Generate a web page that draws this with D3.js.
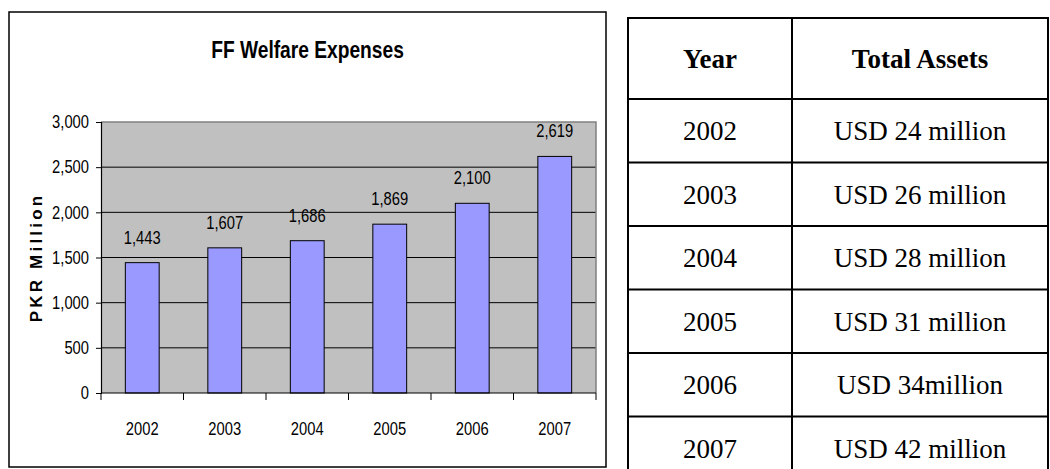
<!DOCTYPE html>
<html>
<head>
<meta charset="utf-8">
<script src="https://cdn.jsdelivr.net/npm/d3@7"></script>
<style>
  html, body { margin: 0; padding: 0; background: #fff; }
  svg { display: block; }
</style>
</head>
<body>
<svg id="fig" width="1050" height="469"></svg>
<script>
// ---- data ----
const years = ["2002", "2003", "2004", "2005", "2006", "2007"];
const expenses = [1443, 1607, 1686, 1869, 2100, 2619];
const yTicks = [0, 500, 1000, 1500, 2000, 2500, 3000];
const assets = ["USD 24 million", "USD 26 million", "USD 28 million",
                "USD 31 million", "USD 34million", "USD 42 million"];
const tableHeader = ["Year", "Total Assets"];
const chartTitle = "FF Welfare Expenses";
const yTitle = "PKR Million";

const svg = d3.select("#fig");
const sans = "'Liberation Sans', Arial, sans-serif";
const serif = "'Liberation Serif', 'Times New Roman', serif";

// condensed look: squeeze text horizontally around its anchor point
function squeeze(sel, k) {
  sel.each(function () {
    const t = d3.select(this);
    const tx = +t.attr("x") || 0, ty = +t.attr("y") || 0;
    t.attr("x", 0).attr("y", 0)
     .attr("transform", `translate(${tx},${ty}) scale(${k},1)`);
  });
}

// ---- chart frame ----
const box = { x0: 9, y0: 12, x1: 606, y1: 467 };
svg.append("rect")
  .attr("x", box.x0).attr("y", box.y0)
  .attr("width", box.x1 - box.x0).attr("height", box.y1 - box.y0)
  .attr("fill", "#fff").attr("stroke", "#000").attr("stroke-width", 1.5);

const plot = { left: 101, right: 596, top: 122, bottom: 393 };

const y = d3.scaleLinear().domain([0, 3000]).range([plot.bottom, plot.top]);
const x = d3.scaleBand().domain(years).range([plot.left, plot.right])
  .paddingInner(0.59).paddingOuter(0.295);
const xCat = d3.scaleBand().domain(years).range([plot.left, plot.right]).padding(0);

// plot background
svg.append("rect")
  .attr("x", plot.left).attr("y", plot.top)
  .attr("width", plot.right - plot.left).attr("height", plot.bottom - plot.top)
  .attr("fill", "#c0c0c0");

// horizontal gridlines
svg.append("g").selectAll("line")
  .data(yTicks.filter(v => v > 0 && v < 3000))
  .join("line")
  .attr("x1", plot.left).attr("x2", plot.right)
  .attr("y1", d => y(d)).attr("y2", d => y(d))
  .attr("stroke", "#000").attr("stroke-width", 1);

// plot border (top / right)
svg.append("path")
  .attr("d", `M${plot.left},${y(3000)}H${plot.right}V${plot.bottom}`)
  .attr("fill", "none").attr("stroke", "#808080").attr("stroke-width", 1.5);

// bars
svg.append("g").selectAll("rect")
  .data(years)
  .join("rect")
  .attr("x", d => x(d)).attr("width", x.bandwidth())
  .attr("y", (d, i) => y(expenses[i]))
  .attr("height", (d, i) => y(0) - y(expenses[i]))
  .attr("fill", "#9999ff").attr("stroke", "#000").attr("stroke-width", 1);

// value labels
const fmt = d3.format(",");
svg.append("g").selectAll("text")
  .data(years)
  .join("text")
  .attr("x", d => x(d) + x.bandwidth() / 2)
  .attr("y", (d, i) => y(expenses[i]) - 19)
  .attr("text-anchor", "middle")
  .attr("font-family", sans).attr("font-size", 18).attr("fill", "#000")
  .text((d, i) => fmt(expenses[i]))
  .call(squeeze, 0.82);

// y axis
const yAxis = d3.axisLeft(y).tickValues(yTicks).tickFormat(fmt)
  .tickSize(5).tickPadding(7);
const gy = svg.append("g").attr("transform", `translate(${plot.left},0)`).call(yAxis);
gy.select(".domain").attr("stroke", "#000").attr("stroke-width", 1.2);
gy.selectAll(".tick line").attr("stroke", "#000");
gy.selectAll(".tick text")
  .attr("font-family", sans).attr("font-size", 18).attr("fill", "#000")
  .call(squeeze, 0.82);

// x axis: baseline, category-boundary ticks, labels
svg.append("line")
  .attr("x1", plot.left).attr("x2", plot.right)
  .attr("y1", y(0)).attr("y2", y(0))
  .attr("stroke", "#000").attr("stroke-width", 1.2);
const bounds = years.map(d => xCat(d)).concat([plot.right]);
svg.append("g").selectAll("line")
  .data(bounds)
  .join("line")
  .attr("x1", d => d).attr("x2", d => d)
  .attr("y1", y(0)).attr("y2", y(0) + 7)
  .attr("stroke", "#000").attr("stroke-width", 1);
svg.append("g").selectAll("text")
  .data(years)
  .join("text")
  .attr("x", d => xCat(d) + xCat.bandwidth() / 2)
  .attr("y", y(0) + 42)
  .attr("text-anchor", "middle")
  .attr("font-family", sans).attr("font-size", 18).attr("fill", "#000")
  .text(d => d)
  .call(squeeze, 0.82);

// titles
svg.append("text")
  .attr("x", (box.x0 + box.x1) / 2).attr("y", 58)
  .attr("text-anchor", "middle")
  .attr("font-family", sans).attr("font-weight", "bold").attr("font-size", 24)
  .text(chartTitle)
  .call(squeeze, 0.8);

svg.append("text")
  .attr("transform", `translate(42,${(plot.top + plot.bottom) / 2}) rotate(-90)`)
  .attr("text-anchor", "middle")
  .attr("font-family", sans)
  .attr("font-weight", "bold").attr("font-size", 17)
  .attr("letter-spacing", 3.2)
  .text(yTitle);

// ---- table ----
const tbl = { left: 628, mid: 792, right: 1048, top: 18, headBottom: 99, rowH: 63.5 };
const rowY = d3.scaleLinear().domain([0, years.length])
  .range([tbl.headBottom, tbl.headBottom + tbl.rowH * years.length]);
const tableBottom = rowY(years.length);

const tg = svg.append("g");
// horizontal rules
const hRules = [tbl.top].concat(d3.range(years.length + 1).map(i => rowY(i)));
tg.selectAll("line.h")
  .data(hRules)
  .join("line").attr("class", "h")
  .attr("x1", tbl.left - 1).attr("x2", tbl.right + 1)
  .attr("y1", d => d).attr("y2", d => d)
  .attr("stroke", "#000").attr("stroke-width", 2);
// vertical rules
tg.selectAll("line.v")
  .data([tbl.left, tbl.mid, tbl.right])
  .join("line").attr("class", "v")
  .attr("x1", d => d).attr("x2", d => d)
  .attr("y1", tbl.top).attr("y2", tableBottom)
  .attr("stroke", "#000").attr("stroke-width", 2);

const c1 = (tbl.left + tbl.mid) / 2, c2 = (tbl.mid + tbl.right) / 2;
tg.selectAll("text.head")
  .data(tableHeader)
  .join("text").attr("class", "head")
  .attr("x", (d, i) => i === 0 ? c1 : c2)
  .attr("y", (tbl.top + tbl.headBottom) / 2)
  .attr("dy", "0.35em")
  .attr("text-anchor", "middle")
  .attr("font-family", serif).attr("font-weight", "bold").attr("font-size", 27)
  .text(d => d);

tg.selectAll("text.yr")
  .data(years)
  .join("text").attr("class", "yr")
  .attr("x", c1)
  .attr("y", (d, i) => (rowY(i) + rowY(i + 1)) / 2)
  .attr("dy", "0.35em")
  .attr("text-anchor", "middle")
  .attr("font-family", serif).attr("font-size", 27)
  .text(d => d);

tg.selectAll("text.as")
  .data(assets)
  .join("text").attr("class", "as")
  .attr("x", c2)
  .attr("y", (d, i) => (rowY(i) + rowY(i + 1)) / 2)
  .attr("dy", "0.35em")
  .attr("text-anchor", "middle")
  .attr("font-family", serif).attr("font-size", 27)
  .text(d => d);
</script>
</body>
</html>
